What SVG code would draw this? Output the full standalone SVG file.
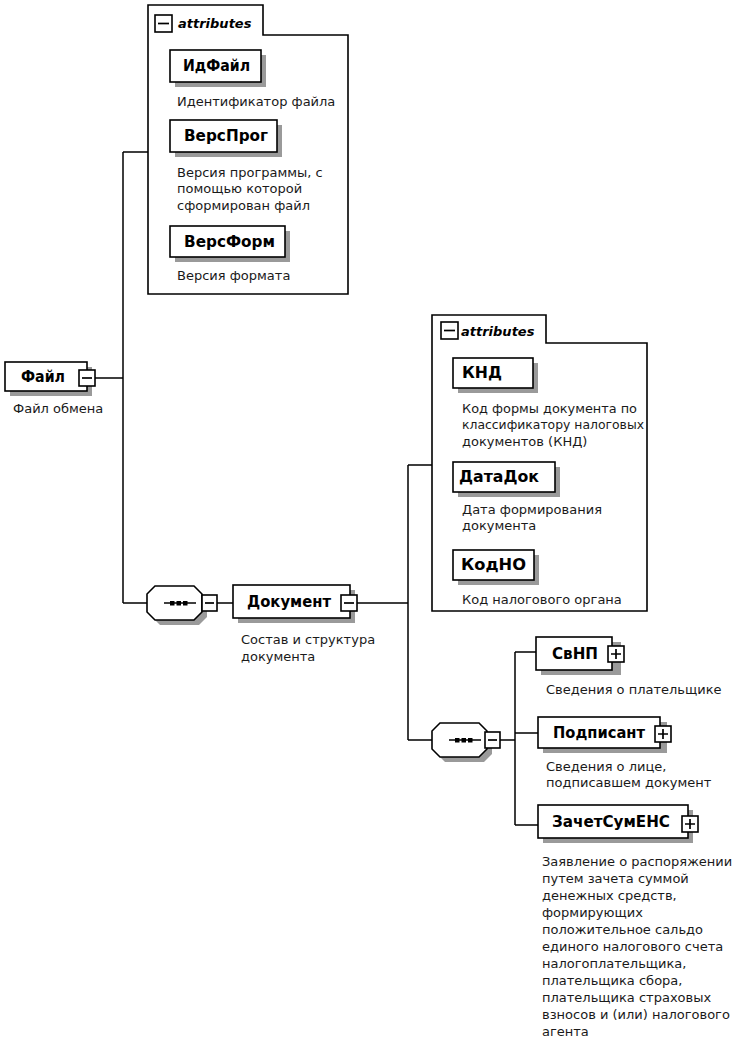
<svg xmlns="http://www.w3.org/2000/svg" width="735" height="1045" viewBox="0 0 735 1045">
<style>
.bg{fill:#fff}
.box{fill:#fff;stroke:#000;stroke-width:1.6}
.sh{fill:#9a9a9a}
.btn{fill:#fff;stroke:#000;stroke-width:1.6}
.sign{stroke:#000;stroke-width:1.7;fill:none}
.ln{stroke:#000;stroke-width:1.5;fill:none}
.lbl{font-family:"DejaVu Sans",sans-serif;font-weight:bold;font-size:15px;fill:#000}
.dsc{font-family:"DejaVu Sans",sans-serif;font-size:13px;fill:#1a1a1a}
.att{font-family:"DejaVu Sans",sans-serif;font-weight:bold;font-style:italic;font-size:13px;fill:#000}
</style>
<rect class="bg" x="0" y="0" width="735" height="1045"/>

<g id="connectors">
<path class="ln" d="M95,378 H123 M123,152 V603 M123,152 H148 M123,603 H147"/>
<path class="ln" d="M217,603 H233 M357,603 H408 M408,465 V740 M408,465 H432 M408,740 H432"/>
<path class="ln" d="M500,740 H515 M515,652 V825 M515,652 H536 M515,733 H538 M515,825 H538"/>
</g>

<g id="attributes1">
<polygon class="box" points="148,5 263,5 263,35 348,35 348,294 148,294"/>
<rect class="btn" x="155" y="15" width="17" height="17"/>
<path class="sign" d="M158,23.5 H169"/>
<text class="att" x="178" y="28">attributes</text>
</g>

<g id="ИдФайл">
<rect class="sh" x="175" y="55" width="91" height="32"/>
<rect class="box" x="170" y="50" width="91" height="32"/>
<text class="lbl" x="183" y="71" textLength="67" lengthAdjust="spacingAndGlyphs">ИдФайл</text>
<text class="dsc" x="177" y="106">Идентификатор файла</text>
</g>

<g id="ВерсПрог">
<rect class="sh" x="175" y="125" width="107" height="32"/>
<rect class="box" x="170" y="120" width="107" height="32"/>
<text class="lbl" x="184" y="141" textLength="84" lengthAdjust="spacingAndGlyphs">ВерсПрог</text>
<text class="dsc" x="177" y="177">Версия программы, с</text>
<text class="dsc" x="177" y="193">помощью которой</text>
<text class="dsc" x="177" y="210">сформирован файл</text>
</g>

<g id="ВерсФорм">
<rect class="sh" x="175" y="231" width="115" height="31"/>
<rect class="box" x="170" y="226" width="115" height="31"/>
<text class="lbl" x="184" y="247" textLength="91" lengthAdjust="spacingAndGlyphs">ВерсФорм</text>
<text class="dsc" x="177" y="280">Версия формата</text>
</g>

<g id="Файл">
<rect class="sh" x="10" y="367" width="82" height="29"/>
<rect class="box" x="5" y="362" width="82" height="29"/>
<rect class="btn" x="79" y="370" width="16" height="16"/>
<path class="sign" d="M82,378 H92"/>
<text class="lbl" x="21" y="382" textLength="44" lengthAdjust="spacingAndGlyphs">Файл</text>
<text class="dsc" x="13" y="413">Файл обмена</text>
</g>

<g id="sequence1">
<path class="sh" d="M160,591 H199 L207,599 V617 L199,625 H160 L152,617 V599 Z"/>
<path class="box" d="M155,586 H194 L202,594 V612 L194,620 H155 L147,612 V594 Z"/>
<path class="ln" d="M164,603 H196"/>
<rect x="170" y="601" width="4.5" height="4.5" fill="#000"/>
<rect x="176.5" y="601" width="4.5" height="4.5" fill="#000"/>
<rect x="183" y="601" width="4.5" height="4.5" fill="#000"/>
<rect class="btn" x="202" y="595" width="15" height="16"/>
<path class="sign" d="M205,603 H214"/>
</g>

<g id="Документ">
<rect class="sh" x="238" y="590" width="117" height="33"/>
<rect class="box" x="233" y="585" width="117" height="33"/>
<rect class="btn" x="341" y="595" width="16" height="16"/>
<path class="sign" d="M344,603 H354"/>
<text class="lbl" x="247" y="607" textLength="84" lengthAdjust="spacingAndGlyphs">Документ</text>
<text class="dsc" x="241" y="644">Состав и структура</text>
<text class="dsc" x="241" y="661">документа</text>
</g>

<g id="attributes2">
<polygon class="box" points="432,315 546,315 546,343 647,343 647,611 432,611"/>
<rect class="btn" x="441" y="322" width="17" height="17"/>
<path class="sign" d="M444,330.5 H455"/>
<text class="att" x="461" y="336">attributes</text>
</g>

<g id="КНД">
<rect class="sh" x="458" y="363" width="80" height="30"/>
<rect class="box" x="453" y="358" width="80" height="30"/>
<text class="lbl" x="462" y="378" textLength="40" lengthAdjust="spacingAndGlyphs">КНД</text>
<text class="dsc" x="462" y="413" textLength="175" lengthAdjust="spacingAndGlyphs">Код формы документа по</text>
<text class="dsc" x="462" y="429" textLength="182" lengthAdjust="spacingAndGlyphs">классификатору налоговых</text>
<text class="dsc" x="462" y="446">документов (КНД)</text>
</g>

<g id="ДатаДок">
<rect class="sh" x="458" y="467" width="102" height="30"/>
<rect class="box" x="453" y="462" width="102" height="30"/>
<text class="lbl" x="459" y="482" textLength="80" lengthAdjust="spacingAndGlyphs">ДатаДок</text>
<text class="dsc" x="462" y="514">Дата формирования</text>
<text class="dsc" x="462" y="530">документа</text>
</g>

<g id="КодНО">
<rect class="sh" x="458" y="555" width="81" height="30"/>
<rect class="box" x="453" y="550" width="81" height="30"/>
<text class="lbl" x="461" y="570" textLength="65" lengthAdjust="spacingAndGlyphs">КодНО</text>
<text class="dsc" x="462" y="604">Код налогового органа</text>
</g>

<g id="sequence2">
<path class="sh" d="M445,728 H484 L492,736 V754 L484,762 H445 L437,754 V736 Z"/>
<path class="box" d="M440,723 H479 L487,731 V749 L479,757 H440 L432,749 V731 Z"/>
<path class="ln" d="M449,740 H481"/>
<rect x="455" y="738" width="4.5" height="4.5" fill="#000"/>
<rect x="461.5" y="738" width="4.5" height="4.5" fill="#000"/>
<rect x="468" y="738" width="4.5" height="4.5" fill="#000"/>
<rect class="btn" x="485" y="732" width="15" height="16"/>
<path class="sign" d="M488,740 H497"/>
</g>

<g id="СвНП">
<rect class="sh" x="541" y="642" width="80" height="33"/>
<rect class="box" x="536" y="637" width="76" height="33"/>
<rect class="btn" x="608" y="646" width="16" height="16"/>
<path class="sign" d="M611,654 H621 M616,649 V659"/>
<text class="lbl" x="552" y="659" textLength="46" lengthAdjust="spacingAndGlyphs">СвНП</text>
<text class="dsc" x="546" y="694">Сведения о плательщике</text>
</g>

<g id="Подписант">
<rect class="sh" x="543" y="722" width="124" height="31"/>
<rect class="box" x="538" y="717" width="122" height="31"/>
<rect class="btn" x="655" y="726" width="16" height="16"/>
<path class="sign" d="M658,734 H668 M663,729 V739"/>
<text class="lbl" x="553" y="738" textLength="92" lengthAdjust="spacingAndGlyphs">Подписант</text>
<text class="dsc" x="546" y="771">Сведения о лице,</text>
<text class="dsc" x="546" y="787">подписавшем документ</text>
</g>

<g id="ЗачетСумЕНС">
<rect class="sh" x="543" y="810" width="150" height="33"/>
<rect class="box" x="538" y="805" width="150" height="33"/>
<rect class="btn" x="682" y="816" width="16" height="16"/>
<path class="sign" d="M685,824 H695 M690,819 V829"/>
<text class="lbl" x="552" y="827" textLength="118" lengthAdjust="spacingAndGlyphs">ЗачетСумЕНС</text>
<text class="dsc" x="542" y="866">Заявление о распоряжении</text>
<text class="dsc" x="542" y="883">путем зачета суммой</text>
<text class="dsc" x="542" y="900">денежных средств,</text>
<text class="dsc" x="542" y="917">формирующих</text>
<text class="dsc" x="542" y="934">положительное сальдо</text>
<text class="dsc" x="542" y="951">единого налогового счета</text>
<text class="dsc" x="542" y="968">налогоплательщика,</text>
<text class="dsc" x="542" y="985">плательщика сбора,</text>
<text class="dsc" x="542" y="1002">плательщика страховых</text>
<text class="dsc" x="542" y="1019">взносов и (или) налогового</text>
<text class="dsc" x="542" y="1036">агента</text>
</g>
</svg>
